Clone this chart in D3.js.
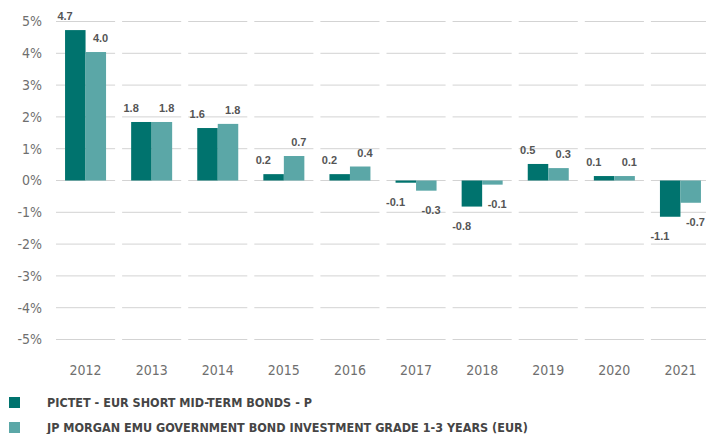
<!DOCTYPE html>
<html>
<head>
<meta charset="utf-8">
<script src="https://cdn.jsdelivr.net/npm/d3@7"></script>
<style>
  body { margin: 0; background: #fff; }
  #chart { width: 706px; height: 434px; }
  .tick-label { font-family: "Liberation Sans Narrow", "DejaVu Sans Condensed", sans-serif; font-size: 14px; fill: #6f6f6f; }
  .val { font-family: "Liberation Sans", "DejaVu Sans", sans-serif; font-size: 11px; font-weight: bold; fill: #555; }
  .legend { font-family: "Liberation Sans Narrow", "DejaVu Sans Condensed", sans-serif; font-size: 12.5px; font-weight: bold; fill: #454545; }
</style>
</head>
<body>
<div id="chart"></div>
<script>
var years = ['2012', '2013', '2014', '2015', '2016', '2017', '2018', '2019', '2020', '2021'];
var seriesNames = ['PICTET - EUR SHORT MID-TERM BONDS - P', 'JP MORGAN EMU GOVERNMENT BOND INVESTMENT GRADE 1-3 YEARS (EUR)'];
var fundValues = [4.73, 1.84, 1.65, 0.2, 0.2, -0.07, -0.82, 0.52, 0.14, -1.14];
var indexValues = [4.04, 1.84, 1.78, 0.77, 0.44, -0.32, -0.13, 0.39, 0.14, -0.70];
var fundLabels = ['4.7', '1.8', '1.6', '0.2', '0.2', '-0.1', '-0.8', '0.5', '0.1', '-1.1'];
var indexLabels = ['4.0', '1.8', '1.8', '0.7', '0.4', '-0.3', '-0.1', '0.3', '0.1', '-0.7'];
var yTicks = [5, 4, 3, 2, 1, 0, -1, -2, -3, -4, -5];
var colors = ['#00736e', '#5ba7a7'];

var width = 706, height = 434;

var svg = d3.select('#chart')
  .append('svg')
  .attr('width', width)
  .attr('height', height);

var xScale = d3.scaleBand()
  .domain(years)
  .range([52.5, 713.5])
  .paddingInner(0.106)
  .paddingOuter(0.053);

var yScale = d3.scaleLinear()
  .domain([-5, 5])
  .range([339.5, 21.5]);

var sub = d3.scaleBand()
  .domain([0, 1])
  .range([0, 41]);

// gridlines, one segment per year
yTicks.forEach(function(t) {
  svg.selectAll(null)
    .data(years)
    .enter()
    .append('line')
    .attr('x1', function(d) { return xScale(d); })
    .attr('x2', function(d) { return xScale(d) + xScale.bandwidth(); })
    .attr('y1', yScale(t))
    .attr('y2', yScale(t))
    .attr('stroke', '#d3d3d3')
    .attr('stroke-width', 1);
});

// y tick labels
svg.selectAll('.ylab')
  .data(yTicks)
  .enter()
  .append('text')
  .attr('class', 'tick-label')
  .attr('x', 42)
  .attr('y', function(d) { return yScale(d); })
  .attr('dy', '0.35em')
  .attr('text-anchor', 'end')
  .text(function(d) { return d + '%'; });

// x labels
svg.selectAll('.xlab')
  .data(years)
  .enter()
  .append('text')
  .attr('class', 'tick-label')
  .attr('x', function(d) { return xScale(d) + xScale.bandwidth() / 2; })
  .attr('y', 370)
  .attr('dy', '0.35em')
  .attr('text-anchor', 'middle')
  .text(function(d) { return d; });

var series = [
  { values: fundValues, labels: fundLabels },
  { values: indexValues, labels: indexLabels }
];

series.forEach(function(s, si) {
  var rows = years.map(function(y, i) { return { year: y, v: s.values[i], lab: s.labels[i] }; });
  var barX = function(d) { return xScale(d.year) + xScale.bandwidth() / 2 - 20.5 + sub(si); };

  svg.selectAll(null)
    .data(rows)
    .enter()
    .append('rect')
    .attr('fill', colors[si])
    .attr('x', barX)
    .attr('width', sub.bandwidth())
    .attr('y', function(d) { return yScale(Math.max(0, d.v)); })
    .attr('height', function(d) { return Math.abs(yScale(d.v) - yScale(0)); });

  svg.selectAll(null)
    .data(rows)
    .enter()
    .append('text')
    .attr('class', 'val')
    .attr('text-anchor', 'middle')
    .attr('x', function(d) { return barX(d) + (si === 0 ? 0 : 15); })
    .attr('y', function(d) { return d.v >= 0 ? yScale(d.v) - 10 : yScale(d.v) + 23; })
    .text(function(d) { return d.lab; });
});

// legend
var legend = svg.selectAll('.leg')
  .data(seriesNames)
  .enter()
  .append('g')
  .attr('transform', function(d, i) { return 'translate(9,' + (397 + i * 25) + ')'; });

legend.append('rect')
  .attr('width', 11)
  .attr('height', 11)
  .attr('fill', function(d, i) { return colors[i]; });

legend.append('text')
  .attr('class', 'legend')
  .attr('x', 38)
  .attr('y', 6)
  .attr('dy', '0.35em')
  .text(function(d) { return d; });
</script>
</body>
</html>
